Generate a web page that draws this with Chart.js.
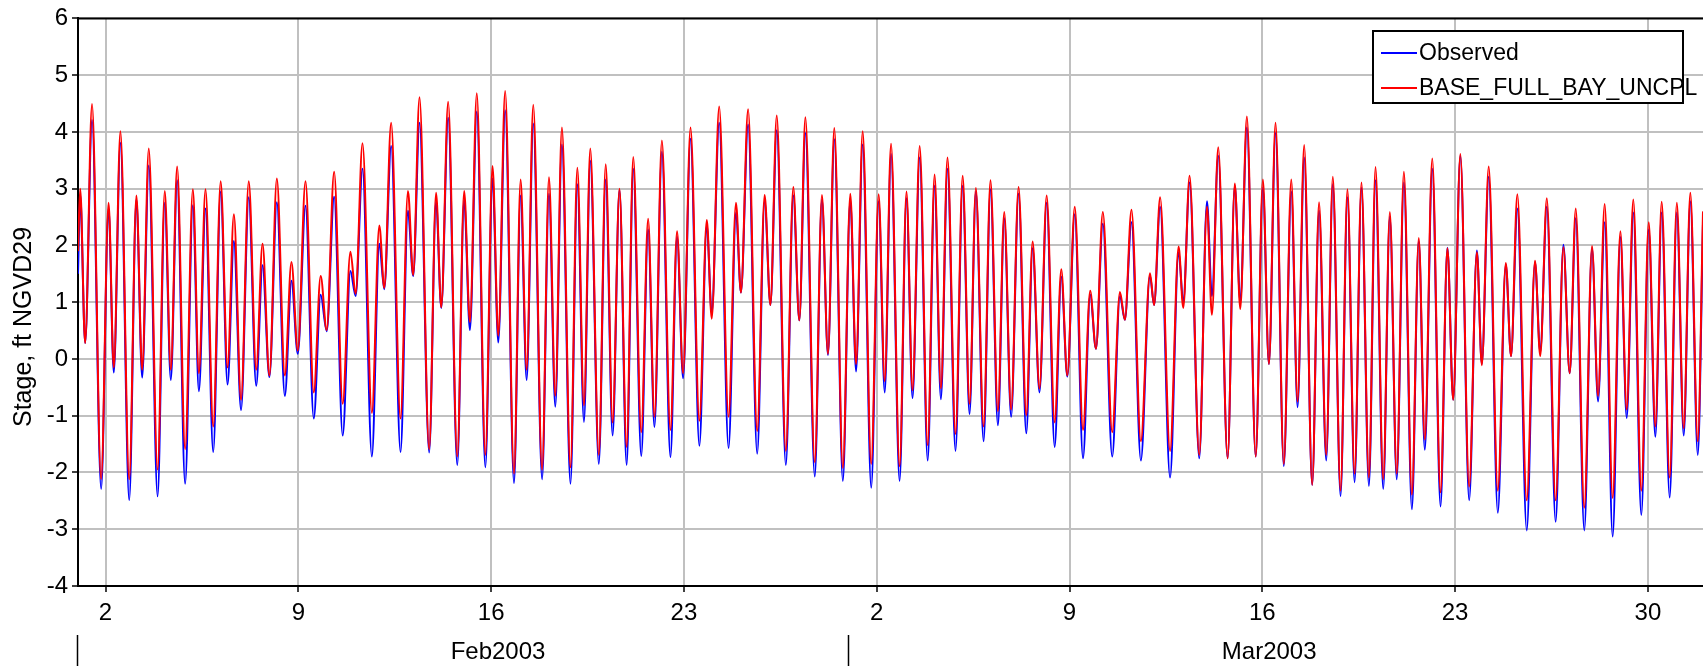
<!DOCTYPE html>
<html>
<head>
<meta charset="utf-8">
<script src="https://cdn.jsdelivr.net/npm/chart.js@4"></script>
<style>
  html, body { margin: 0; padding: 0; background: #fff; }
  #wrap { width: 1703px; height: 670px; }
</style>
</head>
<body>
<div id="wrap"><canvas id="stageChart" width="1703" height="670"></canvas></div>
<script>
// time in days since 1 Feb 2003 00:00, highs and lows
const tideDays = [
  0.00, 0.08, 0.26, 0.51, 0.84, 1.11, 1.30, 1.54, 1.86, 2.12, 2.33, 2.57, 2.89, 3.15, 3.37, 3.60, 3.89, 4.17, 4.39, 4.63,
  4.91, 5.18, 5.43, 5.66, 5.92, 6.20, 6.47, 6.70, 6.95, 7.22, 7.51, 7.75, 7.98, 8.26, 8.56, 8.81, 9.03, 9.30, 9.61, 9.89,
  10.08, 10.33, 10.67, 10.94, 11.12, 11.37, 11.71, 11.98, 12.17, 12.40, 12.75, 13.00, 13.19, 13.44, 13.77, 14.02, 14.23, 14.48, 14.79, 15.05,
  15.26, 15.51, 15.83, 16.07, 16.29, 16.53, 16.85, 17.10, 17.33, 17.57, 17.88, 18.13, 18.37, 18.60, 18.91, 19.16, 19.41, 19.66, 19.92, 20.16,
  20.45, 20.70, 20.93, 21.20, 21.51, 21.75, 21.97, 22.24, 22.56, 22.83, 23.01, 23.28, 23.62, 23.89, 24.07, 24.33, 24.66, 24.93, 25.14, 25.37,
  25.70, 25.97, 26.19, 26.41, 26.75, 27.01, 27.23, 27.46, 27.77, 28.04, 28.25, 28.49, 28.80, 29.07, 29.29, 29.52, 29.83, 30.08, 30.30, 30.56,
  30.85, 31.10, 31.33, 31.57, 31.86, 32.12, 32.37, 32.60, 32.88, 33.13, 33.40, 33.63, 33.88, 34.15, 34.43, 34.66, 34.91, 35.17, 35.46, 35.70,
  35.92, 36.19, 36.49, 36.75, 36.96, 37.21, 37.55, 37.83, 38.01, 38.25, 38.59, 38.92, 39.07, 39.29, 39.65, 39.96, 40.13, 40.36, 40.71, 40.99,
  41.17, 41.40, 41.74, 42.00, 42.20, 42.44, 42.76, 43.02, 43.24, 43.48, 43.78, 44.05, 44.28, 44.52, 44.81, 45.06, 45.32, 45.56, 45.84, 46.09,
  46.35, 46.60, 46.87, 47.11, 47.39, 47.63, 47.88, 48.14, 48.43, 48.68, 48.90, 49.17, 49.47, 49.72, 49.93, 50.19, 50.51, 50.79, 50.97, 51.22,
  51.55, 51.84, 52.03, 52.26, 52.60, 52.90, 53.09, 53.33, 53.65, 53.93, 54.16, 54.38, 54.69, 54.97, 55.19, 55.43, 55.72, 56.00, 56.23, 56.47,
  56.76, 57.03, 57.27, 57.50, 57.79, 58.05, 58.30, 58.54, 58.81, 59.00
];
const observed = [
  1.50, 2.90, 0.28, 4.21, -2.29, 2.65, -0.24, 3.81, -2.49, 2.81, -0.33, 3.41, -2.42, 2.75, -0.37, 3.15, -2.20, 2.71, -0.57, 2.65,
  -1.64, 2.95, -0.45, 2.08, -0.90, 2.85, -0.47, 1.65, -0.32, 2.76, -0.65, 1.38, 0.09, 2.70, -1.05, 1.13, 0.49, 2.86, -1.35, 1.55,
  1.11, 3.35, -1.72, 2.03, 1.23, 3.75, -1.64, 2.61, 1.46, 4.16, -1.65, 2.78, 0.90, 4.25, -1.87, 2.80, 0.51, 4.36, -1.91, 3.18,
  0.29, 4.38, -2.19, 2.88, -0.37, 4.15, -2.12, 2.91, -0.84, 3.78, -2.20, 3.08, -1.11, 3.49, -1.85, 3.16, -1.35, 2.98, -1.87, 3.35,
  -1.71, 2.28, -1.20, 3.65, -1.73, 2.15, -0.34, 3.88, -1.53, 2.35, 0.80, 4.16, -1.57, 2.58, 1.17, 4.13, -1.67, 2.78, 0.95, 4.03,
  -1.87, 2.88, 0.68, 3.98, -2.07, 2.81, 0.07, 3.87, -2.15, 2.81, -0.22, 3.78, -2.27, 2.78, -0.59, 3.61, -2.15, 2.83, -0.69, 3.55,
  -1.79, 3.05, -0.71, 3.35, -1.62, 3.05, -0.97, 2.95, -1.45, 2.99, -1.17, 2.48, -1.02, 2.91, -1.31, 1.95, -0.59, 2.75, -1.55, 1.45,
  -0.31, 2.55, -1.75, 1.13, 0.18, 2.38, -1.72, 1.11, 0.69, 2.41, -1.79, 1.47, 0.95, 2.68, -2.09, 1.88, 1.00, 3.11, -1.75, 2.78,
  1.11, 3.58, -1.75, 3.05, 1.01, 4.08, -1.72, 3.01, -0.09, 3.98, -1.89, 2.95, -0.85, 3.55, -2.22, 2.61, -1.79, 3.08, -2.42, 2.85,
  -2.17, 3.01, -2.24, 3.15, -2.29, 2.51, -2.12, 3.11, -2.65, 2.08, -1.60, 3.35, -2.60, 1.96, -0.72, 3.58, -2.49, 1.91, -0.09, 3.21,
  -2.71, 1.67, 0.05, 2.65, -3.02, 1.71, 0.12, 2.68, -2.87, 2.01, -0.25, 2.48, -3.02, 1.95, -0.75, 2.41, -3.13, 2.15, -1.04, 2.58,
  -2.75, 2.28, -1.37, 2.58, -2.44, 2.58, -1.35, 2.78, -1.69, 2.40
];
const baseFullBay = [
  1.90, 3.00, 0.28, 4.49, -2.12, 2.75, -0.15, 4.01, -2.12, 2.88, -0.19, 3.71, -1.95, 2.96, -0.19, 3.39, -1.59, 2.99, -0.25, 2.99,
  -1.19, 3.13, -0.15, 2.55, -0.72, 3.13, -0.19, 2.03, -0.29, 3.18, -0.29, 1.71, 0.15, 3.13, -0.59, 1.46, 0.51, 3.30, -0.79, 1.89,
  1.15, 3.80, -0.95, 2.35, 1.25, 4.16, -1.05, 2.96, 1.48, 4.61, -1.59, 2.93, 0.91, 4.53, -1.72, 2.96, 0.65, 4.68, -1.69, 3.40,
  0.41, 4.72, -2.02, 3.16, -0.19, 4.48, -1.95, 3.20, -0.65, 4.08, -1.91, 3.37, -0.82, 3.71, -1.69, 3.43, -1.12, 3.00, -1.55, 3.56,
  -1.29, 2.47, -1.02, 3.85, -1.25, 2.25, -0.25, 4.08, -1.09, 2.45, 0.71, 4.45, -1.02, 2.75, 1.17, 4.40, -1.27, 2.89, 0.95, 4.29,
  -1.62, 3.03, 0.68, 4.26, -1.82, 2.89, 0.09, 4.07, -1.92, 2.91, -0.09, 4.01, -1.85, 2.90, -0.39, 3.79, -1.89, 2.95, -0.55, 3.75,
  -1.52, 3.25, -0.52, 3.55, -1.32, 3.23, -0.79, 3.01, -1.19, 3.15, -0.92, 2.59, -0.89, 3.03, -0.99, 2.07, -0.52, 2.88, -1.12, 1.58,
  -0.29, 2.68, -1.25, 1.20, 0.18, 2.59, -1.29, 1.18, 0.69, 2.63, -1.45, 1.51, 0.95, 2.85, -1.62, 1.98, 0.90, 3.23, -1.69, 2.68,
  0.78, 3.73, -1.75, 3.09, 0.88, 4.27, -1.72, 3.16, -0.09, 4.16, -1.85, 3.16, -0.75, 3.77, -2.22, 2.76, -1.69, 3.21, -2.32, 2.99,
  -2.02, 3.11, -2.09, 3.38, -2.12, 2.59, -2.02, 3.30, -2.39, 2.13, -1.42, 3.53, -2.35, 1.95, -0.72, 3.61, -2.25, 1.88, -0.11, 3.39,
  -2.32, 1.69, 0.05, 2.90, -2.49, 1.73, 0.05, 2.83, -2.49, 1.97, -0.25, 2.65, -2.62, 1.99, -0.65, 2.73, -2.45, 2.25, -0.89, 2.81,
  -2.32, 2.41, -1.19, 2.77, -2.09, 2.75, -1.22, 2.93, -1.45, 2.60
];
const tickDays = [1, 8, 15, 22, 29, 36, 43, 50, 57];
const tickLabels = ['2', '9', '16', '23', '2', '9', '16', '23', '30'];
const monthStarts = [0, 28];
const monthLabels = ['Feb2003', 'Mar2003'];
const seriesNames = ['Observed', 'BASE_FULL_BAY_UNCPL'];
const seriesColors = ['#0000ff', '#ff0000'];

const FONT = '"Liberation Sans", Arial, sans-serif';

function toPoints(values) {
    return tideDays.map((d, i) => ({ x: d, y: values[i] }));
}

// frame line on top, month row, y title, boxed legend
const decorations = {
    id: 'decorations',
    afterDraw(chart) {
        const ctx = chart.ctx;
        const area = chart.chartArea;
        const xs = chart.scales.x;
        ctx.save();
        ctx.strokeStyle = '#000';
        ctx.lineWidth = 2;
        ctx.beginPath();
        ctx.moveTo(area.left, area.top);
        ctx.lineTo(area.right, area.top);
        ctx.stroke();

        ctx.fillStyle = '#000';
        ctx.font = '24px ' + FONT;
        ctx.textAlign = 'center';
        ctx.textBaseline = 'middle';
        ctx.lineWidth = 1.5;
        monthStarts.forEach((d, i) => {
            const px = Math.round(xs.getPixelForValue(d)) - 0.5;
            ctx.beginPath();
            ctx.moveTo(px, 635);
            ctx.lineTo(px, 666);
            ctx.stroke();
            ctx.fillText(monthLabels[i], xs.getPixelForValue(d + 15.25), 652);
        });

        ctx.save();
        ctx.translate(24, 327);
        ctx.rotate(-Math.PI / 2);
        ctx.font = '25px ' + FONT;
        ctx.fillText('Stage, ft NGVD29', 0, 0);
        ctx.restore();

        const boxL = area.right - 330, boxT = 31, boxW = 310, boxH = 72;
        ctx.fillStyle = '#fff';
        ctx.fillRect(boxL, boxT, boxW, boxH);
        ctx.strokeStyle = '#000';
        ctx.lineWidth = 2;
        ctx.strokeRect(boxL, boxT, boxW, boxH);
        ctx.font = '23px ' + FONT;
        ctx.textAlign = 'left';
        seriesNames.forEach((name, i) => {
            const y = boxT + 22 + i * 35;
            ctx.strokeStyle = seriesColors[i];
            ctx.beginPath();
            ctx.moveTo(boxL + 8, y);
            ctx.lineTo(boxL + 44, y);
            ctx.stroke();
            ctx.fillStyle = '#000';
            ctx.fillText(name, boxL + 46, y + 1);
        });
        ctx.restore();
    }
};

document.addEventListener('DOMContentLoaded', function () {
    const ctx = document.getElementById('stageChart').getContext('2d');
    new Chart(ctx,
    {
        type: 'line',
        data:
        {
            datasets: [{
                label: seriesNames[0],
                data: toPoints(observed),
                borderColor: seriesColors[0],
                borderWidth: 2,
                pointRadius: 0,
                cubicInterpolationMode: 'monotone',
                order: 2
            }, {
                label: seriesNames[1],
                data: toPoints(baseFullBay),
                borderColor: seriesColors[1],
                borderWidth: 2,
                pointRadius: 0,
                cubicInterpolationMode: 'monotone',
                order: 1
            }]
        },
        options:
        {
            responsive: false,
            animation: false,
            layout: { padding: { top: 13, right: 0, left: 0, bottom: 0 } },
            plugins: {
                legend: { display: false },
                tooltip: { enabled: false }
            },
            scales: {
                x: {
                    type: 'linear',
                    min: 0,
                    max: 59,
                    afterBuildTicks: s => { s.ticks = tickDays.map(v => ({ value: v })); },
                    afterFit: s => { s.height = 84; },
                    ticks: {
                        autoSkip: false,
                        maxRotation: 0,
                        padding: 7,
                        color: '#000',
                        font: { family: FONT, size: 24 },
                        callback: (v, i) => tickLabels[i]
                    },
                    grid: { color: '#c0c0c0', lineWidth: 2, tickColor: '#000', tickLength: 6, tickWidth: 1.5 },
                    border: { color: '#000', width: 2 }
                },
                y: {
                    min: -4,
                    max: 6,
                    afterFit: s => { s.width = 78; },
                    ticks: {
                        stepSize: 1,
                        padding: 4,
                        color: '#000',
                        font: { family: FONT, size: 24 }
                    },
                    grid: { color: '#c0c0c0', lineWidth: 2, tickColor: '#000', tickLength: 6, tickWidth: 1.5 },
                    border: { color: '#000', width: 2 }
                }
            }
        },
        plugins: [decorations]
    });
});
</script>
</body>
</html>
